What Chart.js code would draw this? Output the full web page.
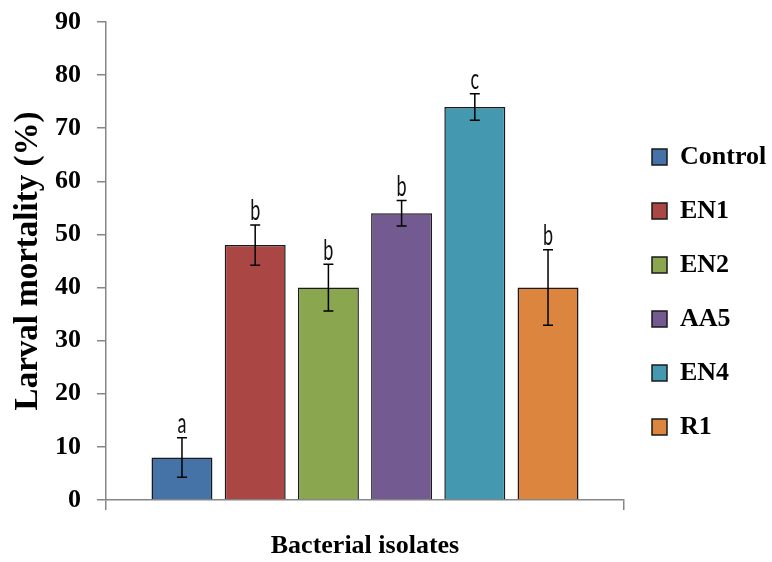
<!DOCTYPE html>
<html>
<head>
<meta charset="utf-8">
<title>Larval mortality</title>
<script src="https://cdn.jsdelivr.net/npm/chart.js@4.4.1/dist/chart.umd.min.js"></script>
<style>
  body { margin: 0; background: #ffffff; }
  #wrap { width: 772px; height: 562px; }
</style>
</head>
<body>
<div id="wrap"><canvas id="mortalityChart" width="772" height="562"></canvas></div>
<script>
// data
const isolates = ['Control', 'EN1', 'EN2', 'AA5', 'EN4', 'R1'];
const mortality = [8, 48, 40, 54, 74, 40];
const mortalityErr = [3.7, 3.8, 4.4, 2.4, 2.5, 7.1];
const sigLetters = ['a', 'b', 'b', 'b', 'c', 'b'];
const barColors = ['#4573A7', '#AA4744', '#8AA64F', '#735A91', '#4499B0', '#DB853F'];
const yTicks = [0, 10, 20, 30, 40, 50, 60, 70, 80, 90];

const serif = "'Liberation Serif', 'Times New Roman', serif";
const axisGray = '#868686';

// error bars + letters over each bar
const errorBarPlugin = {
    id: 'errorBars',
    afterDatasetsDraw(chart) {
        const ctx = chart.ctx;
        const yScale = chart.scales.y;
        ctx.save();
        chart.data.datasets.forEach(function(ds, i) {
            const bar = chart.getDatasetMeta(i).data[0];
            const v = mortality[i];
            const e = mortalityErr[i];
            const x = bar.x;
            const yTop = yScale.getPixelForValue(v + e);
            const yBot = yScale.getPixelForValue(v - e);

            ctx.strokeStyle = '#000';
            ctx.lineWidth = 1.5;
            ctx.beginPath();
            ctx.moveTo(x, yTop); ctx.lineTo(x, yBot);
            ctx.moveTo(x - 5, yTop); ctx.lineTo(x + 5, yTop);
            ctx.moveTo(x - 5, yBot); ctx.lineTo(x + 5, yBot);
            ctx.stroke();

            // letters in the original are tall and narrow
            ctx.save();
            ctx.translate(x, yTop - 4.5);
            ctx.scale(1, 1.6);
            ctx.fillStyle = '#111';
            ctx.font = "18px Lato, 'Open Sans', sans-serif";
            ctx.textAlign = 'center';
            ctx.textBaseline = 'alphabetic';
            ctx.fillText(sigLetters[i], 0, 0);
            ctx.restore();
        });
        ctx.restore();
    }
};

const datasets = isolates.map(function(name, i) {
    return {
        label: name,
        data: [mortality[i]],
        backgroundColor: barColors[i],
        borderColor: '#1a1a1a',
        borderWidth: 1.5,
        categoryPercentage: 0.848,
        barPercentage: 0.833
    };
});

const ctx = document.getElementById('mortalityChart').getContext('2d');
new Chart(ctx, {
    type: 'bar',
    data: {
        labels: [''],
        datasets: datasets
    },
    options: {
        responsive: false,
        animation: false,
        devicePixelRatio: 1,
        layout: { padding: { top: 22, right: 0, bottom: 0, left: 0 } },
        plugins: {
            tooltip: { enabled: false },
            legend: {
                position: 'right',
                align: 'center',
                maxWidth: 148,
                labels: {
                    color: '#000',
                    boxWidth: 15,
                    boxHeight: 16,
                    padding: 28,
                    font: { family: serif, size: 26, weight: 'bold' }
                }
            }
        },
        scales: {
            x: {
                offset: true,
                afterFit: function(scale) { scale.height = 62; },
                grid: { drawOnChartArea: false, tickLength: 10, color: axisGray, lineWidth: 1.5 },
                border: { color: axisGray, width: 1.5 },
                ticks: { display: true, font: { size: 1 } },
                title: {
                    display: true,
                    text: 'Bacterial isolates',
                    color: '#000',
                    font: { family: serif, size: 26, weight: 'bold', lineHeight: 1 },
                    padding: { top: 0, bottom: 3 }
                }
            },
            y: {
                min: yTicks[0],
                max: yTicks[yTicks.length - 1],
                afterFit: function(scale) {
                    scale.width = 106;
                    scale.paddingTop = 0;
                    scale.paddingBottom = 0;
                },
                afterBuildTicks: function(scale) {
                    scale.ticks = yTicks.map(function(v) { return { value: v }; });
                },
                grid: { drawOnChartArea: false, tickLength: 9, color: axisGray, lineWidth: 1.5 },
                border: { color: axisGray, width: 1.5 },
                ticks: {
                    color: '#000',
                    padding: 16,
                    font: { family: serif, size: 26, weight: 'bold' }
                },
                title: {
                    display: true,
                    text: 'Larval mortality (%)',
                    color: '#000',
                    font: { family: serif, size: 33, weight: 'bold', lineHeight: 1 },
                    padding: { top: 12, bottom: 0 }
                }
            }
        }
    },
    plugins: [errorBarPlugin]
});
</script>
</body>
</html>
